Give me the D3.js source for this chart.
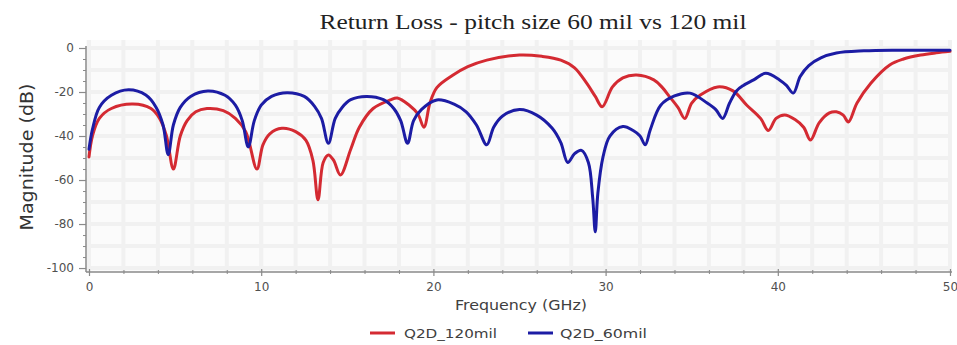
<!DOCTYPE html>
<html>
<head>
<meta charset="utf-8">
<script src="https://cdn.jsdelivr.net/npm/d3@7"></script>
<style>
  html, body { margin: 0; padding: 0; background: #ffffff; }
  svg { display: block; }
</style>
</head>
<body>
<svg id="chart" width="957" height="345"></svg>
<script>
// ---------- data ----------
const chartTitle = "Return Loss - pitch size 60 mil vs 120 mil";
const xLabel = "Frequency (GHz)";
const yLabel = "Magnitude (dB)";
const seriesNames = ["Q2D_120mil", "Q2D_60mil"];

const xTicks = [0, 10, 20, 30, 40, 50];
const yTicks = [0, -20, -40, -60, -80, -100];

// Q2D_120mil (red)
const redFreq = [0, 0.2, 0.6, 1.3, 2.55, 3.6, 4.1, 4.5, 4.9, 5.3, 5.7, 6.2, 6.85, 7.8, 8.5, 9.1, 9.75,
  10.1, 10.5, 11.2, 12.0, 12.6, 13.0, 13.3, 13.6, 13.9, 14.2, 14.6, 15.2, 15.7, 16.5, 17.5, 17.9,
  18.6, 19.1, 19.45, 19.8, 20.2, 21.1, 22.0, 23.1, 25.0, 26.3, 27.4, 28.2, 28.9, 29.4, 29.8,
  30.4, 31.0, 31.8, 32.8, 33.3, 33.7, 34.2, 34.6, 35.0, 35.5, 36.5, 37.4, 38.2, 39.0, 39.45,
  39.9, 40.4, 41.0, 41.5, 41.9, 42.4, 43.0, 43.4, 43.8, 44.1, 44.6, 45.4, 46.5, 47.3, 48.3, 49.2, 50];
const redDb = [-49.5, -40, -32, -27.5, -25.5, -27.5, -32, -40, -55, -40, -33, -29, -27.5, -28.5, -32, -38, -55,
  -44, -39, -36.5, -38, -42, -51, -69, -52, -48.6, -51, -57.7, -46, -36, -27.5, -23.6, -22.7,
  -26, -30, -36, -25, -18, -12.5, -8.5, -5.5, -3.2, -3.8, -5.5, -9, -16, -22, -26.7,
  -17.7, -13.6, -12.3, -14.5, -18, -22, -27, -32, -25, -21.4, -17.7, -19.5, -26, -32, -37.5,
  -32, -30.4, -32.5, -36, -41.8, -34, -29.5, -29, -30.5, -33.6, -25, -16, -7.7, -5, -3.2, -2.2, -1.5];

// Q2D_60mil (blue)
const blueFreq = [0, 0.2, 0.6, 1.3, 2.3, 3.3, 3.9, 4.3, 4.6, 4.9, 5.3, 5.9, 6.9, 7.9, 8.5, 8.9, 9.25,
  9.6, 10.0, 10.6, 11.5, 12.5, 13.1, 13.5, 13.9, 14.3, 14.7, 15.2, 16.1, 17.1, 17.7, 18.1, 18.5,
  18.85, 19.3, 20.2, 21.2, 21.9, 22.5, 23.1, 23.5, 24.0, 25.0, 26.0, 26.9, 27.4, 27.8, 28.2, 28.6,
  29.0, 29.25, 29.4, 29.55, 29.85, 30.25, 31.0, 31.6, 32.0, 32.3, 32.6, 33.2, 34.0, 34.9, 35.9,
  36.4, 36.8, 37.2, 37.6, 38.0, 38.6, 39.3, 40.1, 40.5, 40.9, 41.3, 41.8, 42.5, 43.4, 45.0, 47.0, 50];
const blueDb = [-46, -37, -27, -21.5, -19, -21.4, -27, -35, -48.5, -35, -27, -22, -19.5, -21.5, -26, -33, -45,
  -33, -26, -22, -20.3, -22, -26.5, -32, -43.3, -32, -27, -23.5, -22, -23.5, -27.5, -33, -43.3,
  -33, -28, -23.6, -25.5, -29, -35, -44, -36, -31, -28, -30.5, -36.5, -43, -52, -48, -46.5,
  -52, -68, -83.5, -66, -49.5, -40, -35.7, -37.5, -40, -44, -37, -26, -21.8, -20.5, -25,
  -28, -32, -25, -19.5, -17, -14.5, -11.5, -14.5, -17, -20.5, -13, -8, -4.5, -2.3, -1.3, -1, -1];

const seriesColors = ["#d42a32", "#1c1ca4"];

// ---------- layout ----------
const svg = d3.select("#chart");
const x = d3.scaleLinear().domain([0, 50]).range([89, 950]);
const y = d3.scaleLinear().domain([-101.8, 0]).range([272, 48]);

const plotLeft = 86, plotRight = 952, plotTop = 40, plotBottom = 272;
svg.append("rect").attr("x", plotLeft).attr("y", plotTop)
  .attr("width", plotRight - plotLeft).attr("height", plotBottom - plotTop)
  .attr("fill", "#fbfbfb");

const gridX = d3.range(0, 51, 2);
const gridY = d3.range(-100, 1, 10);
svg.append("g").selectAll("line").data(gridX).join("line")
  .attr("x1", d => x(d)).attr("x2", d => x(d))
  .attr("y1", plotTop).attr("y2", plotBottom)
  .attr("stroke", "#f1f1f1").attr("stroke-width", 4);
svg.append("g").selectAll("line").data(gridY).join("line")
  .attr("x1", plotLeft).attr("x2", plotRight)
  .attr("y1", d => y(d)).attr("y2", d => y(d))
  .attr("stroke", "#f1f1f1").attr("stroke-width", 4);

// ---------- axes ----------
const axisColor = "#8a8a8a";
const tickFont = "DejaVu Sans, Verdana, sans-serif";
const fmt = d => String(d);

const yAxis = d3.axisLeft(y).tickValues(yTicks).tickSize(7).tickPadding(5).tickFormat(fmt);
const gy = svg.append("g").attr("transform", `translate(${plotLeft},0)`).call(yAxis);
gy.select(".domain").attr("d", `M0,${y(0) - 2}V${plotBottom}`).attr("stroke", axisColor).attr("stroke-width", 1.5);
gy.selectAll(".tick line").attr("stroke", axisColor).attr("stroke-width", 1.2);
gy.selectAll(".tick text").attr("fill", "#505050").attr("font-size", 12).attr("font-family", tickFont);
const yMinor = d3.axisLeft(y).tickValues(d3.range(-95, 0, 5).filter(v => v % 20 !== 0)).tickSize(3).tickFormat("");
const gym = svg.append("g").attr("transform", `translate(${plotLeft},0)`).call(yMinor);
gym.select(".domain").remove();
gym.selectAll(".tick line").attr("stroke", axisColor);

const xAxis = d3.axisBottom(x).tickValues(xTicks).tickSize(4).tickPadding(6).tickFormat(fmt);
const gx = svg.append("g").attr("transform", `translate(0,${plotBottom})`).call(xAxis);
gx.select(".domain").attr("d", `M${plotLeft},0H${plotRight}`).attr("stroke", axisColor).attr("stroke-width", 1.5);
gx.selectAll(".tick line").attr("stroke", axisColor).attr("stroke-width", 1.2).attr("y1", -3);
gx.selectAll(".tick text").attr("fill", "#505050").attr("font-size", 12).attr("font-family", tickFont);
const xMinor = d3.axisBottom(x).tickValues(d3.range(2, 50, 2).filter(v => v % 10 !== 0)).tickSize(2).tickFormat("");
const gxm = svg.append("g").attr("transform", `translate(0,${plotBottom})`).call(xMinor);
gxm.select(".domain").remove();
gxm.selectAll(".tick line").attr("stroke", axisColor).attr("y1", -2);

// ---------- lines ----------
const line = d3.line().x(d => x(d[0])).y(d => y(d[1])).curve(d3.curveCatmullRom.alpha(0.5));
const redData = redFreq.map((f, i) => [f, redDb[i]]);
const blueData = blueFreq.map((f, i) => [f, blueDb[i]]);

svg.append("path").datum(redData).attr("d", line)
  .attr("fill", "none").attr("stroke", seriesColors[0]).attr("stroke-width", 3)
  .attr("stroke-linejoin", "round").attr("stroke-linecap", "round");
svg.append("path").datum(blueData).attr("d", line)
  .attr("fill", "none").attr("stroke", seriesColors[1]).attr("stroke-width", 3)
  .attr("stroke-linejoin", "round").attr("stroke-linecap", "round");

// ---------- title & labels ----------
svg.append("text").attr("x", 533).attr("y", 29).attr("text-anchor", "middle")
  .attr("font-family", "Liberation Serif, Times New Roman, serif").attr("font-size", 22)
  .attr("fill", "#222").attr("textLength", 427).attr("lengthAdjust", "spacingAndGlyphs")
  .text(chartTitle);

svg.append("text").attr("transform", "translate(33,157) rotate(-90)").attr("text-anchor", "middle")
  .attr("font-family", tickFont).attr("font-size", 17).attr("fill", "#333")
  .attr("textLength", 147).attr("lengthAdjust", "spacingAndGlyphs")
  .text(yLabel);

svg.append("text").attr("x", 521).attr("y", 310).attr("text-anchor", "middle")
  .attr("font-family", tickFont).attr("font-size", 14).attr("fill", "#404040")
  .attr("textLength", 132).attr("lengthAdjust", "spacingAndGlyphs")
  .text(xLabel);

const legendItems = [
  { name: seriesNames[0], color: seriesColors[0], x: 370, tx: 404, w: 93 },
  { name: seriesNames[1], color: seriesColors[1], x: 528, tx: 560, w: 87 }
];
const lg = svg.append("g");
legendItems.forEach(it => {
  lg.append("line").attr("x1", it.x).attr("x2", it.x + 25).attr("y1", 333).attr("y2", 333)
    .attr("stroke", it.color).attr("stroke-width", 3);
  lg.append("text").attr("x", it.tx).attr("y", 338).attr("font-family", tickFont)
    .attr("font-size", 13).attr("fill", "#404040")
    .attr("textLength", it.w).attr("lengthAdjust", "spacingAndGlyphs").text(it.name);
});
</script>
</body>
</html>
